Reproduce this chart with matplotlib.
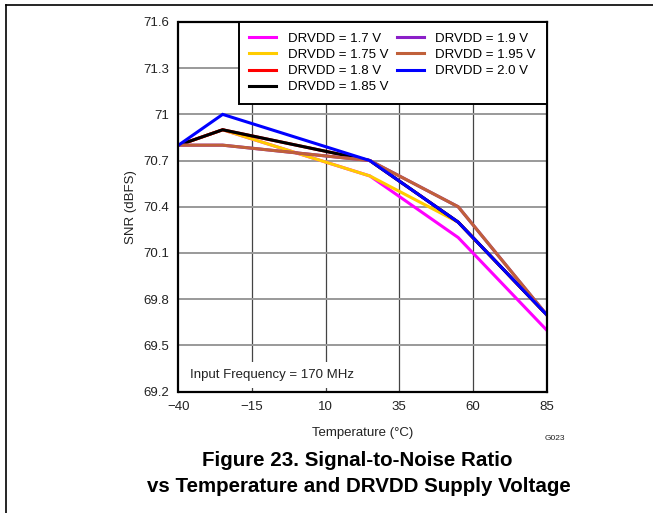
import matplotlib
matplotlib.use("Agg")
import matplotlib.pyplot as plt
from matplotlib.lines import Line2D

plt.rcParams['font.family'] = ['Liberation Sans', 'DejaVu Sans']

temps = [-40, -25, 25, 55, 85]
labels = ["DRVDD = 1.7 V", "DRVDD = 1.75 V", "DRVDD = 1.8 V", "DRVDD = 1.85 V",
          "DRVDD = 1.9 V", "DRVDD = 1.95 V", "DRVDD = 2.0 V"]
snr_170 = [70.8, 70.9, 70.6, 70.2, 69.6]
snr_175 = [70.8, 70.9, 70.6, 70.3, 69.7]
snr_180 = [70.8, 70.9, 70.7, 70.3, 69.7]
snr_185 = [70.8, 70.9, 70.7, 70.3, 69.7]
snr_190 = [70.8, 70.8, 70.7, 70.4, 69.7]
snr_195 = [70.8, 70.8, 70.7, 70.4, 69.7]
snr_200 = [70.8, 71.0, 70.7, 70.3, 69.7]
series = [snr_170, snr_175, snr_180, snr_185, snr_190, snr_195, snr_200]
colors = ["#FF00FF", "#FFCC00", "#FF0000", "#000000", "#8B1FC8", "#C0603A", "#0000FF"]

xticks = [-40, -15, 10, 35, 60, 85]
yticks = [69.2, 69.5, 69.8, 70.1, 70.4, 70.7, 71.0, 71.3, 71.6]
ytick_labels = ["69.2", "69.5", "69.8", "70.1", "70.4", "70.7", "71", "71.3", "71.6"]
xtick_labels = ["\u221240", "\u221215", "10", "35", "60", "85"]

W, H = 653, 513
fig = plt.figure(figsize=(W / 100, H / 100), dpi=100)
ax = fig.add_axes([178.5 / W, 1 - 391.5 / H, 368 / W, 369.5 / H])

for x in xticks[1:-1]:
    ax.axvline(x, color="#444444", lw=0.9, zorder=1)
for y in yticks[1:-1]:
    ax.axhline(y, color="#999999", lw=1.4, zorder=1)

for s, c, lab in zip(series, colors, labels):
    ax.plot(temps, s, color=c, lw=2.2, label=lab, zorder=3, solid_joinstyle="miter")

ax.set_xlim(-40, 85)
ax.set_ylim(69.2, 71.6)
ax.set_xticks(xticks)
ax.set_xticklabels(xtick_labels)
ax.set_yticks(yticks)
ax.set_yticklabels(ytick_labels)
ax.tick_params(length=0, labelsize=9.5, pad=7, colors="#222222")
for sp in ax.spines.values():
    sp.set_linewidth(1.6)
    sp.set_color("black")
    sp.set_zorder(5)

ax.set_xlabel("Temperature (\u00b0C)", fontsize=9.5, labelpad=10, color="#222222")
ax.set_ylabel("SNR (dBFS)", fontsize=9.5, labelpad=4, color="#222222")

ax.text(-36, 69.27, "Input Frequency = 170 MHz", fontsize=9.5, color="#222222",
        va="bottom", ha="left", zorder=4,
        bbox=dict(facecolor="white", edgecolor="none", pad=5))

leg = ax.legend(ncol=2, loc="upper right", fontsize=9.5, frameon=True, fancybox=False,
                edgecolor="black", framealpha=1, borderaxespad=0, handlelength=2.05,
                handletextpad=0.9, columnspacing=0.6, labelspacing=0.3,
                borderpad=0.8)
leg.get_frame().set_linewidth(1.4)
leg.set_zorder(6)

fig.text(555 / W, 1 - 438 / H, "G023", fontsize=6, ha="center", va="center", color="#222222")
fig.text(357 / W, 1 - 460 / H, "Figure 23. Signal-to-Noise Ratio", fontsize=14.8,
         fontweight="bold", ha="center", va="center")
fig.text(359 / W, 1 - 487 / H, "vs Temperature and DRVDD Supply Voltage", fontsize=14.8,
         fontweight="bold", ha="center", va="center")

fig.add_artist(Line2D([6 / W, 1], [1 - 5 / H, 1 - 5 / H], color="black", lw=1.2))
fig.add_artist(Line2D([6 / W, 6 / W], [0, 1 - 5 / H], color="black", lw=1.2))

fig.savefig("out.png", dpi=100)
